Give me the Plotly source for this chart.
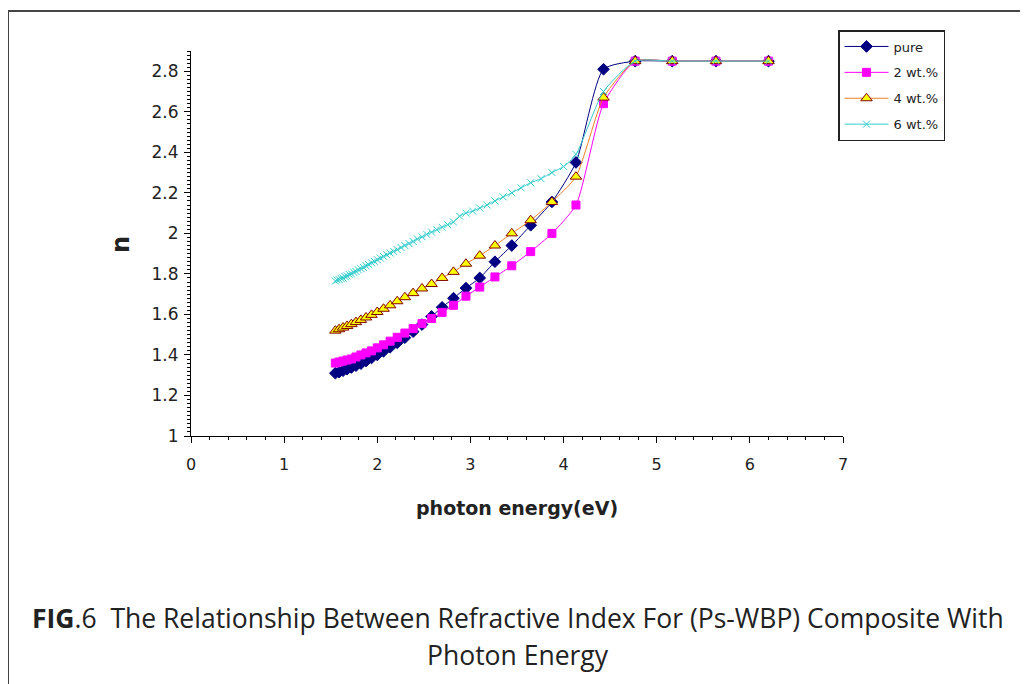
import plotly.graph_objects as go

# photon energies (eV) for the 20 nm wavelength grid, 800 nm -> 200 nm
energy = [1.550, 1.590, 1.632, 1.676, 1.722, 1.771, 1.824, 1.879, 1.938, 2.000,
          2.067, 2.138, 2.214, 2.296, 2.385, 2.480, 2.583, 2.696, 2.818, 2.952,
          3.100, 3.263, 3.444, 3.647, 3.875, 4.133, 4.429, 4.769, 5.167, 5.636, 6.200]

n_pure = [1.310, 1.315, 1.322, 1.330, 1.338, 1.347, 1.357, 1.370, 1.385, 1.400,
          1.418, 1.438, 1.460, 1.485, 1.515, 1.550, 1.590, 1.635, 1.680, 1.730,
          1.780, 1.860, 1.940, 2.040, 2.155, 2.350, 2.810, 2.850, 2.850, 2.850, 2.850]

n_2wt = [1.360, 1.365, 1.370, 1.375, 1.380, 1.390, 1.400, 1.410, 1.420, 1.435,
         1.450, 1.468, 1.487, 1.508, 1.530, 1.555, 1.580, 1.610, 1.645, 1.690,
         1.735, 1.785, 1.840, 1.910, 2.000, 2.140, 2.640, 2.850, 2.850, 2.850, 2.850]

n_4wt = [1.520, 1.527, 1.535, 1.543, 1.552, 1.562, 1.573, 1.585, 1.598, 1.612,
         1.628, 1.645, 1.665, 1.685, 1.705, 1.728, 1.750, 1.780, 1.810, 1.850,
         1.890, 1.940, 2.000, 2.065, 2.155, 2.280, 2.670, 2.850, 2.850, 2.850, 2.850]

# 6 wt.% series measured on a finer (10 nm) grid
energy_6 = [1.550, 1.570, 1.590, 1.610, 1.632, 1.653, 1.676, 1.699, 1.722, 1.746,
            1.771, 1.797, 1.824, 1.851, 1.879, 1.908, 1.938, 1.968, 2.000, 2.033,
            2.067, 2.102, 2.138, 2.175, 2.214, 2.255, 2.296, 2.340, 2.385, 2.431,
            2.480, 2.531, 2.583, 2.638, 2.696, 2.756, 2.818, 2.884, 2.952, 3.024,
            3.100, 3.179, 3.263, 3.351, 3.444, 3.543, 3.647, 3.758, 3.875, 4.000,
            4.133, 4.429, 4.769, 5.167, 5.636, 6.200]

n_6wt = [1.765, 1.770, 1.772, 1.778, 1.780, 1.787, 1.790, 1.797, 1.800, 1.808,
         1.812, 1.820, 1.826, 1.832, 1.840, 1.846, 1.855, 1.862, 1.870, 1.878,
         1.886, 1.894, 1.903, 1.911, 1.920, 1.930, 1.940, 1.950, 1.960, 1.972,
         1.983, 1.995, 2.006, 2.018, 2.030, 2.043, 2.056, 2.085, 2.100, 2.110,
         2.125, 2.140, 2.160, 2.180, 2.200, 2.225, 2.250, 2.270, 2.300, 2.330,
         2.390, 2.700, 2.850, 2.850, 2.850, 2.850]

series_names = ["pure", "2 wt.%", "4 wt.%", "6 wt.%"]

AX_FONT = "DejaVu Sans, Liberation Sans, Arial, sans-serif"
CAP_FONT = "Open Sans, Lato, sans-serif"

fig = go.Figure()
fig.add_trace(go.Scatter(
    x=energy, y=n_pure, name=series_names[0], mode="lines+markers", legendgroup="a",
    line=dict(color="#000080", width=1, shape="spline", smoothing=0.6),
    marker=dict(symbol="diamond", size=9, color="#000080", line=dict(color="#000080", width=1))))
fig.add_trace(go.Scatter(
    x=energy, y=n_2wt, name=series_names[1], mode="lines+markers", legendgroup="b",
    line=dict(color="#FF00FF", width=1, shape="spline", smoothing=0.6),
    marker=dict(symbol="square", size=8, color="#FF00FF", line=dict(color="#FF00FF", width=1))))
fig.add_trace(go.Scatter(
    x=energy, y=n_4wt, name=series_names[2], mode="lines+markers", legendgroup="c",
    line=dict(color="#F08020", width=1, shape="spline", smoothing=0.6),
    marker=dict(symbol="triangle-up", size=10, color="#FFFF00", line=dict(color="#800000", width=1))))
fig.add_trace(go.Scatter(
    x=energy_6, y=n_6wt, name=series_names[3], mode="lines+markers", legendgroup="d",
    line=dict(color="#33CCCC", width=1, shape="spline", smoothing=0.6),
    marker=dict(symbol="x-thin", size=7, color="#33CCCC", line=dict(color="#33CCCC", width=1))))

OFF = 8  # page body margin
W, H = 1028, 684
L = 191 - OFF
T = 51 - OFF
R = W - (843 - OFF)
B = H - (436 - OFF)
pw = W - L - R
ph = H - T - B


def px(x):
    """screen x pixel -> paper coordinate"""
    return (x - OFF - L) / pw


def py(y):
    """screen y pixel -> paper coordinate"""
    return (H - B - (y - OFF)) / ph


fig.update_layout(
    width=W, height=H, autosize=False,
    margin=dict(l=L, r=R, t=T, b=B, pad=0),
    paper_bgcolor="white", plot_bgcolor="white",
    font=dict(family=AX_FONT, color="#222222"),
    showlegend=True,
    legend=dict(
        x=px(838), y=py(30), xanchor="left", yanchor="top",
        bgcolor="white", bordercolor="#222222", borderwidth=1.5,
        font=dict(family=AX_FONT, size=13, color="#222222"),
        tracegroupgap=6, itemwidth=44,
    ),
    xaxis=dict(
        range=[0, 7], dtick=1, tick0=0, showgrid=False, zeroline=False,
        showline=True, linecolor="black", linewidth=1.2,
        ticks="outside", ticklen=6, tickcolor="black", tickwidth=1,
        tickfont=dict(family=AX_FONT, size=16, color="#222222"),
        ticklabelstandoff=8,
        minor=dict(dtick=0.2, ticklen=3, tickcolor="black", ticks="outside", showgrid=False),
    ),
    yaxis=dict(
        range=[1, 2.9], dtick=0.2, tick0=1, showgrid=False, zeroline=False,
        showline=True, linecolor="black", linewidth=1.2,
        ticks="outside", ticklen=6, tickcolor="black", tickwidth=1,
        tickfont=dict(family=AX_FONT, size=17, color="#222222"),
        ticklabelstandoff=2,
        minor=dict(dtick=0.02, ticklen=3, tickcolor="black", ticks="outside", showgrid=False),
    ),
)

annotations = [
    dict(text="<b>photon energy(eV)</b>", x=px(517), y=py(508), xref="paper", yref="paper",
         showarrow=False, xanchor="center", yanchor="middle",
         font=dict(family=AX_FONT, size=19, color="#222222")),
    dict(text="<b>n</b>", x=px(121), y=py(245), xref="paper", yref="paper",
         showarrow=False, xanchor="center", yanchor="middle", textangle=-90,
         font=dict(family=AX_FONT, size=24, color="#222222")),
    dict(text="<b>FIG</b>.6  The Relationship Between Refractive Index For (Ps-WBP) Composite With",
         x=px(518), y=py(618), xref="paper", yref="paper",
         showarrow=False, xanchor="center", yanchor="middle",
         font=dict(family=CAP_FONT, size=26.5, color="#222222")),
    dict(text="Photon Energy",
         x=px(518), y=py(655), xref="paper", yref="paper",
         showarrow=False, xanchor="center", yanchor="middle",
         font=dict(family=CAP_FONT, size=26.5, color="#222222")),
]
fig.update_layout(annotations=annotations)

# outer frame of the figure (top and left edges)
fig.add_shape(type="line", xref="paper", yref="paper",
              x0=px(8), y0=py(11), x1=px(1040), y1=py(11),
              line=dict(color="#444444", width=2))
fig.add_shape(type="line", xref="paper", yref="paper",
              x0=px(8), y0=py(11), x1=px(8), y1=py(700),
              line=dict(color="#444444", width=2))

fig.write_html("out.html")
